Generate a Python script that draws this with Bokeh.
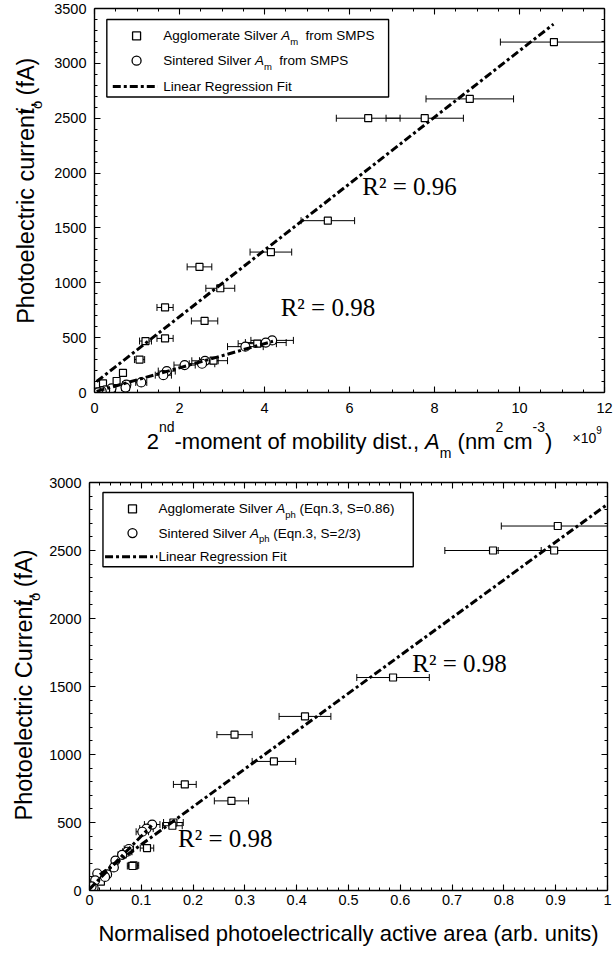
import math
import numpy as np
from bokeh.plotting import figure
from bokeh.models import Range1d, LinearAxis, FixedTicker, Label, CustomJSTickFormatter
from bokeh.layouts import column, row
from bokeh.embed import file_html
from bokeh.resources import INLINE

# ------------------------------------------------------------------ DATA
# Top panel: x = 2nd moment of mobility distribution A_m (x1e9 nm^2 cm^-3), y = photocurrent (fA)
top_agg_x = [10.81, 8.83, 7.77, 6.44, 5.49, 4.15, 2.47, 2.96, 1.66, 2.59, 1.66, 1.20,
             1.06, 0.67, 0.52, 0.20, 0.73, 0.35, 0.09, 3.83, 2.80]
top_agg_y = [3194, 2676, 2500, 2500, 1566, 1280, 1145, 950, 775, 652, 493, 469,
             300, 178, 105, 84, 50, 25, 9, 445, 290]
top_agg_err = [1.26, 1.03, 0.91, 0.75, 0.63, 0.49, 0.29, 0.34, 0.19, 0.31, 0.19, 0.14,
               0.12, 0.08, 0.06, 0.02, 0.08, 0.04, 0.01, 0.45, 0.33]

top_sin_x = [4.18, 4.03, 3.55, 2.60, 2.53, 2.12, 1.70, 1.62, 1.10, 0.75, 0.73, 0.40, 0.25, 0.17, 0.09]
top_sin_y = [475, 455, 418, 289, 262, 250, 195, 158, 92, 72, 45, 38, 20, 10, 2]
top_sin_err = [0.50, 0.48, 0.42, 0.31, 0.30, 0.25, 0.20, 0.19, 0.13, 0.09, 0.09, 0.05, 0.03, 0.02, 0.01]

top_fit_agg = [303.0, 85.0]      # slope, intercept
top_fit_agg_x = [0.05, 10.8]
top_fit_sin = [110.0, 5.0]
top_fit_sin_x = [0.05, 4.2]
top_r2 = ["R\u00b2 = 0.96", "R\u00b2 = 0.98"]

top_x_ticks = [0, 2, 4, 6, 8, 10, 12]
top_y_ticks = [0, 500, 1000, 1500, 2000, 2500, 3000, 3500]

# Bottom panel: x = normalised photoelectrically active area, y = photocurrent (fA)
bot_agg_x = [0.904, 0.779, 0.897, 0.586, 0.416, 0.280, 0.356, 0.184, 0.274, 0.162, 0.160,
             0.111, 0.085, 0.083, 0.030, 0.018, 0.022, 0.005]
bot_agg_y = [2680, 2500, 2500, 1566, 1280, 1146, 949, 780, 659, 500, 476,
             312, 185, 180, 110, 90, 65, 20]
bot_agg_err = [0.109, 0.093, 0.108, 0.070, 0.050, 0.034, 0.042, 0.022, 0.033, 0.019, 0.019,
               0.013, 0.010, 0.010, 0.004, 0.002, 0.003, 0.001]

bot_sin_x = [0.121, 0.110, 0.102, 0.076, 0.073, 0.063, 0.050, 0.047, 0.034, 0.030, 0.015, 0.011, 0.008, 0.004]
bot_sin_y = [485, 455, 432, 305, 285, 262, 220, 170, 118, 100, 125, 75, 20, 30]
bot_sin_err = [0.015, 0.013, 0.012, 0.009, 0.009, 0.008, 0.006, 0.006, 0.004, 0.004, 0.002, 0.001, 0.001, 0.001]

bot_fit_agg = [2780.0, 60.0]
bot_fit_agg_x = [0.02, 1.0]
bot_fit_sin = [3900.0, 10.0]
bot_fit_sin_x = [0.0, 0.12]
bot_r2 = ["R\u00b2 = 0.98", "R\u00b2 = 0.98"]

bot_x_ticks = [0, 0.1, 0.2, 0.3, 0.4, 0.5, 0.6, 0.7, 0.8, 0.9, 1.0]
bot_x_labels = ["0", "0.1", "0.2", "0.3", "0.4", "0.5", "0.6", "0.7", "0.8", "0.9", "1"]
bot_y_ticks = [0, 500, 1000, 1500, 2000, 2500, 3000]

# ------------------------------------------------------------------ helpers
CW = {' ': 278, '(': 333, ')': 333, ',': 278, '-': 333, '.': 278, '/': 278, '=': 584, '\u00d7': 584,
      'A': 667, 'C': 722, 'E': 667, 'F': 611, 'L': 556, 'M': 833, 'N': 722, 'P': 667, 'R': 722, 'S': 667,
      'a': 556, 'b': 556, 'c': 500, 'd': 556, 'e': 556, 'f': 278, 'g': 556, 'h': 556, 'i': 222,
      'l': 222, 'm': 833, 'n': 556, 'o': 556, 'p': 556, 'q': 556, 'r': 333, 's': 500, 't': 278,
      'u': 556, 'v': 500, 'y': 500}


def tw(s, size):
    return sum(CW.get(c, 556) for c in s) * size / 1000.0


SANS = "Liberation Sans"
# frames in page pixels
TOP = dict(left=94, right=604, top=8, bottom=392, x0=0.0, x1=12.0, y0=0.0, y1=3500.0)
BOT = dict(left=89, right=607, top=482, bottom=890, x0=0.0, x1=1.0, y0=0.0, y1=3000.0)
YW = 46          # width of the y-title strips
TICK_FS = "14.5px"
LEG_FS = 13.5
TITLE_FS = 22
YTITLE_FS = 23.5
MID = 0.33       # baseline -> middle of em box, as a fraction of the font size


def frame_map(F):
    def f(px, py):
        xd = F["x0"] + (px - F["left"]) * (F["x1"] - F["x0"]) / (F["right"] - F["left"])
        yd = F["y0"] + (F["bottom"] - py) * (F["y1"] - F["y0"]) / (F["bottom"] - F["top"])
        return xd, yd
    return f


def to_px(F, xd, yd):
    px = F["left"] + (xd - F["x0"]) * (F["right"] - F["left"]) / (F["x1"] - F["x0"])
    py = F["bottom"] - (yd - F["y0"]) * (F["bottom"] - F["top"]) / (F["y1"] - F["y0"])
    return px, py


def put_runs(p, mapper, x0, y0, parts, vertical=False):
    """x0,y0 = start of the baseline (page px). Each part: text, size, style, baseline shift (px, + = down)."""
    adv = 0.0
    for text, size, style, shift in parts:
        core = text.strip(" ")
        lead = text[:len(text) - len(text.lstrip(" "))]
        trail = text[len(text.rstrip(" ")):]
        adv += tw(lead, size)
        if vertical:
            px, py, ang = x0 + shift - MID * size, y0 - adv, math.pi / 2
        else:
            px, py, ang = x0 + adv, y0 + shift - MID * size, 0.0
        xd, yd = mapper(px, py)
        p.add_layout(Label(x=xd, y=yd, text=core, text_font=SANS, text_font_size=f"{size}px",
                           text_font_style=style, text_align="left", text_baseline="middle",
                           angle=ang, text_color="black"))
        adv += tw(core, size) + tw(trail, size)


def total_w(parts):
    return sum(tw(t, s) for t, s, _, _ in parts)


def minor_list(ticks, n):
    out = []
    for a, b in zip(ticks[:-1], ticks[1:]):
        out += list(np.linspace(a, b, n + 1)[1:-1])
    return out


def add_axes(p, xticks, xminor, yticks, yminor, xstand, ystand, xformatter=None):
    for side, ticks, minor in (("below", xticks, xminor), ("above", xticks, xminor),
                               ("left", yticks, yminor), ("right", yticks, yminor)):
        ax = LinearAxis(ticker=FixedTicker(ticks=ticks, minor_ticks=minor))
        ax.axis_line_color = "black"
        ax.axis_line_width = 1.4
        ax.major_tick_in = 6
        ax.major_tick_out = 0
        ax.minor_tick_in = 3
        ax.minor_tick_out = 0
        ax.major_tick_line_color = "black"
        ax.minor_tick_line_color = "black"
        ax.major_tick_line_width = 1.1
        ax.minor_tick_line_width = 1.0
        ax.major_label_text_font = SANS
        ax.major_label_text_color = "black"
        if side in ("below", "left"):
            ax.major_label_text_font_size = TICK_FS
            ax.major_label_standoff = xstand if side == "below" else ystand
            if side == "below" and xformatter is not None:
                ax.formatter = xformatter
        else:
            ax.major_label_text_font_size = "0px"
            ax.major_label_text_alpha = 0
            ax.major_label_standoff = 0
        p.add_layout(ax, side)


def errorbars(p, xs, ys, errs):
    lo = [x - e for x, e in zip(xs, errs)]
    hi = [x + e for x, e in zip(xs, errs)]
    p.segment(x0=lo, y0=ys, x1=hi, y1=ys, line_color="black", line_width=1)
    p.scatter(x=lo + hi, y=ys + ys, marker="dash", angle=math.pi / 2, size=7,
              line_color="black", line_width=1)


def fitline(p, coef, xr):
    xs = np.array(xr, dtype=float)
    ys = coef[0] * xs + coef[1]
    p.line(xs, ys, line_color="black", line_width=3, line_dash="8 3 3 3")


def legend(p, F, box, rows_y, mx, lx, tx, row_runs):
    p.quad(left=box[0], right=box[1], bottom=box[2], top=box[3], fill_color="white",
           line_color="black", line_width=1.4)
    p.scatter([mx], [rows_y[0]], marker="square", size=8, fill_color="white",
              line_color="black", line_width=1.3)
    p.scatter([mx], [rows_y[1]], marker="circle", size=9, fill_color="white",
              line_color="black", line_width=1.3)
    p.line(lx, [rows_y[2], rows_y[2]], line_color="black", line_width=3, line_dash="8 3 3 3")
    m = frame_map(F)
    for ry, parts in zip(rows_y, row_runs):
        px, py = to_px(F, tx, ry)
        put_runs(p, m, px, py + 4.5, parts)


def make_fig(F, width, height, mbl, mbr, mbt, mbb):
    p = figure(width=width, height=height, x_range=Range1d(F["x0"], F["x1"]),
               y_range=Range1d(F["y0"], F["y1"]), output_backend="svg", toolbar_location=None,
               x_axis_type=None, y_axis_type=None, min_border_left=mbl, min_border_right=mbr,
               min_border_top=mbt, min_border_bottom=mbb, title=None)
    p.outline_line_color = None
    p.background_fill_color = "white"
    p.border_fill_color = "white"
    return p


def strip_fig(width, height):
    """A blank canvas (frame = whole canvas, y downward) used for axis titles."""
    s = figure(width=width, height=height, x_range=Range1d(0, width), y_range=Range1d(height, 0),
               output_backend="svg", toolbar_location=None, x_axis_type=None, y_axis_type=None,
               min_border_left=0, min_border_right=0, min_border_top=0, min_border_bottom=0,
               title=None)
    s.outline_line_color = None
    s.background_fill_color = "white"
    s.border_fill_color = "white"
    return s


def strip_map(ox, oy):
    return lambda px, py: (px - ox, py - oy)


# ------------------------------------------------------------------ TOP FIGURE  (page y 0..418)
H1 = 418
p1 = make_fig(TOP, 613 - YW, H1, TOP["left"] - YW, 613 - TOP["right"], TOP["top"], H1 - TOP["bottom"])
add_axes(p1, top_x_ticks, minor_list(top_x_ticks, 4), top_y_ticks, minor_list(top_y_ticks, 5), 10, 8)

errorbars(p1, top_agg_x, top_agg_y, top_agg_err)
errorbars(p1, top_sin_x, top_sin_y, top_sin_err)
p1.scatter(top_agg_x, top_agg_y, marker="square", size=7, fill_color="white", line_color="black", line_width=1.2)
p1.scatter(top_sin_x, top_sin_y, marker="circle", size=9, fill_color="white", line_color="black", line_width=1.2)
fitline(p1, top_fit_agg, top_fit_agg_x)
fitline(p1, top_fit_sin, top_fit_sin_x)

p1.add_layout(Label(x=6.3, y=1880, text=top_r2[0], text_font="Liberation Serif", text_font_size="25px",
                    text_baseline="middle", text_align="left", text_color="black"))
p1.add_layout(Label(x=4.38, y=775, text=top_r2[1], text_font="Liberation Serif", text_font_size="25px",
                    text_baseline="middle", text_align="left", text_color="black"))

legend(p1, TOP, (0.29, 6.92, 2693, 3400), [3250, 3024, 2789], 0.99, [0.43, 1.49], 1.62, [
    [("Agglomerate Silver ", LEG_FS, "normal", 0), ("A", LEG_FS, "italic", 0), ("m", 9.5, "normal", 4),
     ("  from SMPS", LEG_FS, "normal", 0)],
    [("Sintered Silver ", LEG_FS, "normal", 0), ("A", LEG_FS, "italic", 0), ("m", 9.5, "normal", 4),
     ("  from SMPS", LEG_FS, "normal", 0)],
    [("Linear Regression Fit", LEG_FS, "normal", 0)],
])

# y title strip (top)
y1s = strip_fig(YW, H1)
yt_parts = [("Photoelectric current, ", YTITLE_FS, "normal", 0), ("i", YTITLE_FS, "italic", 0),
            ("o", 15, "normal", 8), (" (fA)", YTITLE_FS, "normal", 0)]
cy = (TOP["top"] + TOP["bottom"]) / 2
put_runs(y1s, strip_map(0, 0), 33, cy + total_w(yt_parts) / 2, yt_parts, vertical=True)

# x title strip (top) page y 418..464
X1H = 46
x1s = strip_fig(613, X1H)
xt_parts = [("2", TITLE_FS, "normal", 0), ("nd", 14, "normal", -17),
            ("-moment of mobility dist., ", TITLE_FS, "normal", 0),
            ("A", TITLE_FS, "italic", 0), ("m", 14, "normal", 9), (" (nm", TITLE_FS, "normal", 0),
            ("2", 14, "normal", -17), ("cm", TITLE_FS, "normal", 0), ("-3", 14, "normal", -17),
            (")", TITLE_FS, "normal", 0)]
cx = (TOP["left"] + TOP["right"]) / 2
put_runs(x1s, strip_map(0, H1), cx - total_w(xt_parts) / 2, 448, xt_parts)
put_runs(x1s, strip_map(0, H1), 572, 442, [("\u00d710", 14, "normal", 0), ("9", 10, "normal", -9)])

# ------------------------------------------------------------------ BOTTOM FIGURE (page y 464..908)
Y2 = H1 + X1H
H2 = 444
p2 = make_fig(BOT, 613 - YW, H2, BOT["left"] - YW, 613 - BOT["right"], BOT["top"] - Y2,
              Y2 + H2 - BOT["bottom"])
fmt = CustomJSTickFormatter(args=dict(labels=bot_x_labels, ticks_v=bot_x_ticks),
                            code="""
let best = 0, d = 1e9;
for (let i = 0; i < ticks_v.length; i++) { const dd = Math.abs(ticks_v[i] - tick); if (dd < d) { d = dd; best = i; } }
return labels[best];""")
add_axes(p2, bot_x_ticks, minor_list(bot_x_ticks, 5), bot_y_ticks, minor_list(bot_y_ticks, 5), 4, 8, fmt)

errorbars(p2, bot_agg_x, bot_agg_y, bot_agg_err)
errorbars(p2, bot_sin_x, bot_sin_y, bot_sin_err)
p2.scatter(bot_agg_x, bot_agg_y, marker="square", size=7, fill_color="white", line_color="black", line_width=1.2)
p2.scatter(bot_sin_x, bot_sin_y, marker="circle", size=9, fill_color="white", line_color="black", line_width=1.2)
fitline(p2, bot_fit_agg, bot_fit_agg_x)
fitline(p2, bot_fit_sin, bot_fit_sin_x)

p2.add_layout(Label(x=0.623, y=1666, text=bot_r2[0], text_font="Liberation Serif", text_font_size="25px",
                    text_baseline="middle", text_align="left", text_color="black"))
p2.add_layout(Label(x=0.171, y=380, text=bot_r2[1], text_font="Liberation Serif", text_font_size="25px",
                    text_baseline="middle", text_align="left", text_color="black"))

legend(p2, BOT, (0.026, 0.625, 2380, 2926), [2806, 2628, 2454], 0.083, [0.03, 0.131], 0.133, [
    [("Agglomerate Silver ", LEG_FS, "normal", 0), ("A", LEG_FS, "italic", 0), ("ph", 9.5, "normal", 4),
     (" (Eqn.3, S=0.86)", LEG_FS, "normal", 0)],
    [("Sintered Silver ", LEG_FS, "normal", 0), ("A", LEG_FS, "italic", 0), ("ph", 9.5, "normal", 4),
     (" (Eqn.3, S=2/3)", LEG_FS, "normal", 0)],
    [("Linear Regression Fit", LEG_FS, "normal", 0)],
])

y2s = strip_fig(YW, H2)
yb_parts = [("Photoelectric Current, ", YTITLE_FS, "normal", 0), ("i", YTITLE_FS, "italic", 0),
            ("o", 15, "normal", 8), (" (fA)", YTITLE_FS, "normal", 0)]
cyb = (BOT["top"] + BOT["bottom"]) / 2
put_runs(y2s, strip_map(0, Y2), 31, cyb + total_w(yb_parts) / 2, yb_parts, vertical=True)

# x title strip (bottom) page y 908..952
Y3 = Y2 + H2
x2s = strip_fig(613, 44)
xb_parts = [("Normalised photoelectrically active area (arb. units)", TITLE_FS, "normal", 0)]
cxb = (BOT["left"] + BOT["right"]) / 2
put_runs(x2s, strip_map(0, Y3), cxb - total_w(xb_parts) / 2, 940, xb_parts)

layout = column(row(y1s, p1, spacing=0), x1s, row(y2s, p2, spacing=0), x2s, spacing=0)
open("out.html", "w").write(file_html(layout, INLINE))
